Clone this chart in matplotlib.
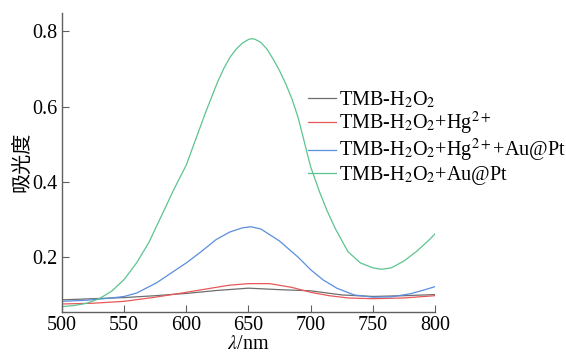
import matplotlib
matplotlib.use("Agg")
import matplotlib.pyplot as plt

plt.rcParams['font.family'] = ['Liberation Serif', 'Noto Sans CJK SC']
plt.rcParams['mathtext.fontset'] = 'stix'

# ---- data ----
wl_green = [500, 510, 520, 530, 540, 550, 560, 570, 580, 590, 600, 605, 610, 615, 620, 625, 630, 635,
            640, 645, 650, 652, 655, 660, 665, 670, 675, 680, 685, 690, 695, 700, 707, 713, 720, 730,
            740, 750, 757, 765, 775, 785, 795, 800]
abs_green = [0.069, 0.072, 0.078, 0.090, 0.110, 0.141, 0.185, 0.240, 0.310, 0.380, 0.445, 0.490, 0.535,
             0.580, 0.622, 0.664, 0.700, 0.730, 0.752, 0.768, 0.778, 0.780, 0.779, 0.770, 0.752, 0.725,
             0.695, 0.660, 0.620, 0.570, 0.505, 0.440, 0.375, 0.325, 0.275, 0.215, 0.185, 0.172, 0.168,
             0.172, 0.190, 0.215, 0.245, 0.262]

wl_blue = [500, 520, 540, 550, 560, 576, 590, 600, 612, 624, 635, 645, 652, 660, 675, 690, 700, 710,
           721, 735, 750, 765, 780, 790, 800]
abs_blue = [0.083, 0.086, 0.092, 0.096, 0.105, 0.132, 0.163, 0.185, 0.215, 0.247, 0.267, 0.278, 0.281,
            0.275, 0.243, 0.200, 0.167, 0.140, 0.118, 0.100, 0.094, 0.095, 0.103, 0.112, 0.122]

wl_red = [500, 525, 550, 575, 600, 620, 635, 650, 667, 685, 700, 715, 730, 750, 775, 800]
abs_red = [0.076, 0.078, 0.083, 0.094, 0.107, 0.118, 0.126, 0.130, 0.130, 0.120, 0.107, 0.098, 0.092,
           0.090, 0.092, 0.098]

wl_gray = [500, 525, 550, 575, 600, 625, 650, 675, 700, 725, 750, 775, 800]
abs_gray = [0.087, 0.090, 0.093, 0.098, 0.104, 0.112, 0.118, 0.114, 0.111, 0.100, 0.096, 0.098, 0.101]

labels = ['TMB-H$_2$O$_2$',
          'TMB-H$_2$O$_2$+Hg$^{2+}$',
          'TMB-H$_2$O$_2$+Hg$^{2+}$+Au@Pt',
          'TMB-H$_2$O$_2$+Au@Pt']
colors = ['#6e6e6e', '#e8585a', '#5a8ede', '#5cc490']

xticks = [500, 550, 600, 650, 700, 750, 800]
yticks = [0.2, 0.4, 0.6, 0.8]

fig = plt.figure(figsize=(5.66, 3.54), dpi=100)
ax = fig.add_axes([0.1095, 0.12, 0.659, 0.843])

series = [(wl_gray, abs_gray), (wl_red, abs_red), (wl_blue, abs_blue), (wl_green, abs_green)]
for (x, y), lab, c in zip(series, labels, colors):
    ax.plot(x, y, color=c, lw=0.9, label=lab)

ax.set_xlim(500, 800)
ax.set_ylim(0.056, 0.848)
ax.set_xticks(xticks)
ax.set_yticks(yticks)
ax.set_yticklabels([f'{v:.1f}' for v in yticks])
for s in ['top', 'right']:
    ax.spines[s].set_visible(False)
for s in ['left', 'bottom']:
    ax.spines[s].set_color('#606060')
    ax.spines[s].set_linewidth(1.0)
ax.tick_params(direction='in', length=5, width=0.8, color='#606060', labelsize=14.5, pad=3)

ax.set_xlabel('$\\lambda$/nm', fontsize=14.5, labelpad=0)
ax.set_ylabel('吸光度', fontsize=14.5, family=['Noto Sans CJK SC'], labelpad=0)

leg = fig.legend(loc='upper left', bbox_to_anchor=(0.544, 0.747), frameon=False, fontsize=14.5,
                 handlelength=1.4, handletextpad=0.15, labelspacing=0.0, borderpad=0,
                 borderaxespad=0)

fig.savefig('out.png', dpi=100)
